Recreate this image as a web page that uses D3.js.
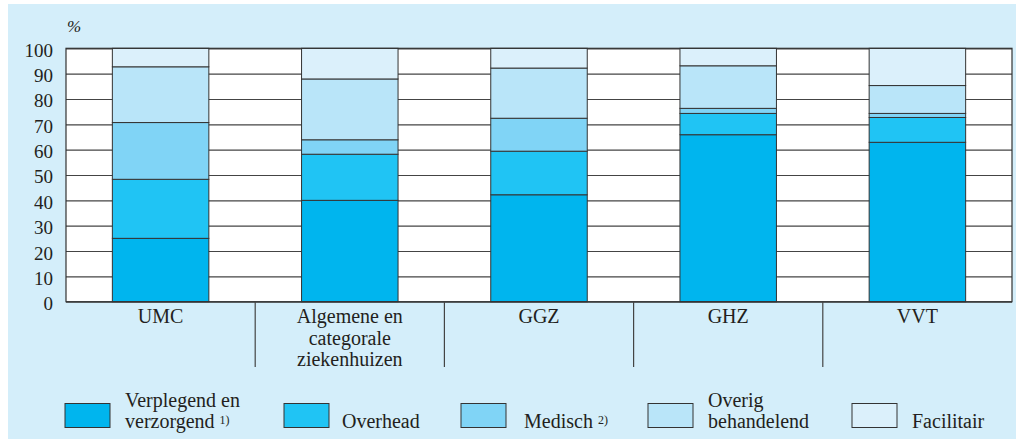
<!DOCTYPE html>
<html>
<head>
<meta charset="utf-8">
<script src="https://cdn.jsdelivr.net/npm/d3@7"></script>
<style>
  body { margin: 0; background: #fff; }
  svg { display: block; }
  text { font-family: "Liberation Serif", "DejaVu Serif", serif; fill: #231f20; }
</style>
</head>
<body>
<div id="chart"></div>
<script>
// categories on the x axis (labels may wrap over several lines)
const categories = ['UMC', 'Algemene', 'GGZ', 'GHZ', 'VVT']
const categoryLabels = [['UMC'], ['Algemene en', 'categorale', 'ziekenhuizen'], ['GGZ'], ['GHZ'], ['VVT']]

// share (%) of each staff group per category, bottom to top
const verplegend = [25, 40, 42.2, 65.9, 62.9]
const overhead = [23.3, 18.2, 17.2, 8.4, 9.8]
const medisch = [22.4, 5.7, 13, 2, 1.6]
const overig = [22, 24, 19.8, 16.8, 11]
const facilitair = [7.3, 12.1, 7.8, 6.9, 14.7]

const seriesKeys = ['verplegend', 'overhead', 'medisch', 'overig', 'facilitair']
const seriesLabels = [
    ['Verplegend en', 'verzorgend'],
    ['Overhead'],
    ['Medisch'],
    ['Overig', 'behandelend'],
    ['Facilitair']
]
const seriesNotes = ['1)', '', '2)', '', '']
const seriesColors = ['#00b5ee', '#20c4f4', '#80d4f6', '#b9e5f9', '#dbf0fb']

const yTicks = [0, 10, 20, 30, 40, 50, 60, 70, 80, 90, 100]

// build rows for d3.stack
const rows = categories.map((c, i) => ({
    cat: c,
    verplegend: verplegend[i],
    overhead: overhead[i],
    medisch: medisch[i],
    overig: overig[i],
    facilitair: facilitair[i]
}))

const W = 1016
const H = 439
const plot = { left: 66, right: 1012, top: 48.3, bottom: 301.7 }

const svg = d3.select('#chart')
    .append('svg')
    .attr('width', W)
    .attr('height', H)

// light blue panel
svg.append('rect')
    .attr('x', 8)
    .attr('y', 4)
    .attr('width', W - 8)
    .attr('height', H - 4)
    .attr('fill', '#d4eefa')

const xScale = d3.scaleBand()
    .domain(categories)
    .range([plot.left, plot.right])
    .paddingInner(0.49)
    .paddingOuter(0.245)

const yScale = d3.scaleLinear()
    .domain([0, 100])
    .range([plot.bottom, plot.top])

// white plot area
svg.append('rect')
    .attr('x', plot.left)
    .attr('y', plot.top)
    .attr('width', plot.right - plot.left)
    .attr('height', plot.bottom - plot.top)
    .attr('fill', '#fff')

// y axis with gridlines across the plot
const yAxis = svg.append('g')
    .attr('transform', `translate(${plot.left},0)`)
    .call(d3.axisLeft(yScale)
        .tickValues(yTicks)
        .tickSize(-(plot.right - plot.left))
        .tickPadding(13))

yAxis.select('.domain').remove()
yAxis.selectAll('.tick line')
    .attr('stroke', '#444')
    .attr('stroke-width', 1.2)
yAxis.selectAll('.tick text')
    .attr('font-size', '19px')
    .attr('font-family', '"Liberation Serif", "DejaVu Serif", serif')
    .attr('fill', '#231f20')
    .attr('dy', '0.42em')

// stacked bars
const stacked = d3.stack().keys(seriesKeys)(rows)

svg.append('g')
    .selectAll('g')
    .data(stacked)
    .join('g')
    .attr('fill', (d, i) => seriesColors[i])
    .selectAll('rect')
    .data(d => d)
    .join('rect')
    .attr('x', d => xScale(d.data.cat))
    .attr('y', d => yScale(d[1]))
    .attr('width', xScale.bandwidth())
    .attr('height', d => yScale(d[0]) - yScale(d[1]))
    .attr('stroke', '#333')
    .attr('stroke-width', 1)

// plot border
svg.append('rect')
    .attr('x', plot.left)
    .attr('y', plot.top)
    .attr('width', plot.right - plot.left)
    .attr('height', plot.bottom - plot.top)
    .attr('fill', 'none')
    .attr('stroke', '#333')
    .attr('stroke-width', 1.2)

// category separators below the axis
const step = xScale.step()
categories.slice(1).forEach(c => {
    const sx = xScale(c) - (step - xScale.bandwidth()) / 2
    svg.append('line')
        .attr('x1', sx)
        .attr('x2', sx)
        .attr('y1', plot.bottom)
        .attr('y2', 367)
        .attr('stroke', '#444')
        .attr('stroke-width', 1.2)
})

// category labels
categories.forEach((c, i) => {
    const t = svg.append('text')
        .attr('text-anchor', 'middle')
        .attr('font-size', '20px')
    categoryLabels[i].forEach((line, j) => {
        t.append('tspan')
            .attr('x', xScale(c) + xScale.bandwidth() / 2)
            .attr('y', 323 + j * 21.5)
            .text(line)
    })
})

// unit label
svg.append('text')
    .attr('x', 67)
    .attr('y', 32)
    .attr('font-size', '17px')
    .attr('font-style', 'italic')
    .text('%')

// legend
const legendX = [65, 284, 461, 648, 852]
seriesKeys.forEach((k, i) => {
    const g = svg.append('g').attr('transform', `translate(${legendX[i]},0)`)
    g.append('rect')
        .attr('x', 0)
        .attr('y', 403.5)
        .attr('width', 45)
        .attr('height', 24)
        .attr('fill', seriesColors[i])
        .attr('stroke', '#333')
        .attr('stroke-width', 1)

    const lines = seriesLabels[i]
    lines.forEach((line, j) => {
        const baseY = 428 - (lines.length - 1 - j) * 21.5
        const t = g.append('text')
            .attr('x', i === 2 ? 63 : (i === 1 ? 58 : 60))
            .attr('y', baseY)
            .attr('font-size', '20px')
            .text(line)
        if (j === lines.length - 1 && seriesNotes[i]) {
            t.append('tspan')
                .attr('dx', 5)
                .attr('dy', -4)
                .attr('font-size', '12px')
                .text(seriesNotes[i])
        }
    })
})
</script>
</body>
</html>
